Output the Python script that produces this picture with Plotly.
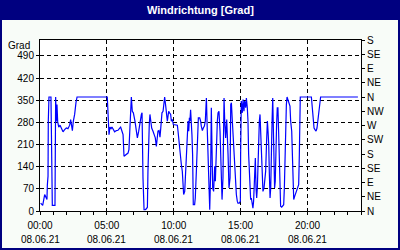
import plotly.graph_objects as go

# time of day in hours (08.06.21) and wind direction in degrees
hours = [0.05, 0.2, 0.35, 0.45, 0.52, 0.55, 0.6, 0.62, 0.67, 0.82, 0.85, 0.87, 0.92, 1.12, 1.17, 1.22, 1.27, 1.32,
         1.40, 1.5, 1.6, 1.72, 1.84, 1.97, 2.09, 2.22, 2.29, 2.34, 2.42, 2.49, 2.59, 2.69, 2.77, 5.03, 5.08, 5.16,
         5.23, 5.31, 5.38, 5.48, 5.58, 5.71, 5.83, 5.96, 6.03, 6.13, 6.21, 6.28, 6.46, 6.58, 6.65, 6.70, 6.75, 6.83,
         6.90, 6.98, 7.10, 7.20, 7.28, 7.38, 7.48, 7.58, 7.63, 7.65, 7.70, 7.78, 7.88, 7.95, 8.03, 8.07, 8.12, 8.17,
         8.22, 8.27, 8.35, 8.45, 8.52, 8.62, 8.70, 8.77, 8.82, 8.90, 8.97, 9.02, 9.07, 9.12, 9.20, 9.27, 9.32, 9.40,
         9.47, 9.52, 9.57, 9.62, 9.69, 9.77, 9.82, 9.89, 9.97, 10.07, 10.19, 10.27, 10.32, 10.39, 10.47, 10.57,
         10.64, 10.69, 10.74, 10.82, 10.87, 10.92, 10.97, 11.02, 11.07, 11.12, 11.17, 11.21, 11.26, 11.31, 11.36,
         11.41, 11.46, 11.56, 11.61, 11.69, 11.74, 11.79, 11.84, 11.94, 12.01, 12.06, 12.14, 12.21, 12.29, 12.36,
         12.44, 12.51, 12.56, 12.64, 12.69, 12.76, 12.81, 12.86, 12.91, 12.98, 13.06, 13.11, 13.18, 13.26, 13.31,
         13.38, 13.46, 13.51, 13.56, 13.61, 13.68, 13.76, 13.81, 13.88, 13.96, 14.01, 14.06, 14.13, 14.21, 14.26,
         14.31, 14.38, 14.45, 14.50, 14.55, 14.60, 14.68, 14.75, 14.80, 14.90, 14.98, 15.00, 15.05, 15.13, 15.18,
         15.25, 15.30, 15.38, 15.43, 15.50, 15.55, 15.60, 15.65, 15.70, 15.75, 15.80, 15.85, 15.92, 15.97, 16.05,
         16.10, 16.15, 16.20, 16.25, 16.30, 16.35, 16.40, 16.45, 16.50, 16.55, 16.60, 16.67, 16.75, 16.80, 16.87,
         16.95, 17.0, 17.05, 17.10, 17.15, 17.20, 17.25, 17.30, 17.35, 17.40, 17.44, 17.49, 17.54, 17.59, 17.64,
         17.69, 17.74, 17.79, 17.84, 17.89, 17.94, 17.99, 18.07, 18.14, 18.22, 18.27, 18.32, 18.37, 18.42, 18.47,
         18.54, 18.62, 18.69, 18.74, 18.82, 18.87, 18.92, 18.97, 19.04, 19.11, 19.19, 19.26, 19.34, 19.39, 19.41,
         19.46, 20.29, 20.31, 20.39, 20.44, 20.49, 20.56, 20.64, 20.71, 20.78, 20.86, 20.91, 20.98, 23.77]
degrees = [25, 18, 52, 43, 36, 83, 110, 283, 360, 360, 283, 104, 18, 18, 360, 283, 336, 283,
           265, 271, 262, 250, 257, 262, 260, 271, 289, 275, 254, 283, 305, 342, 360, 360, 326, 241,
           265, 260, 265, 256, 250, 254, 255, 262, 265, 252, 241, 173, 178, 183, 194, 231, 284, 360,
           315, 310, 284, 252, 231, 252, 284, 305, 310, 231, 104, 4, 4, 7, 12, 125, 231, 273,
           305, 284, 262, 252, 241, 231, 204, 231, 252, 254, 233, 257, 284, 310, 315, 342, 360, 331,
           305, 284, 299, 315, 310, 305, 284, 289, 273, 273, 271, 271, 252, 215, 189, 146,
           125, 94, 52, 62, 115, 146, 178, 231, 284, 252, 294, 284, 320, 294, 241,
           178, 20, 20, 41, 125, 178, 231, 294, 294, 284, 268, 254, 262, 268, 284,
           357, 252, 147, 73, 4, 125, 326, 241, 73, 62, 141, 94, 231, 284, 310,
           315, 252, 178, 99, 36, 104, 357, 284, 231, 289, 252, 178, 73, 104, 336,
           342, 284, 231, 178, 115, 83, 52, 31, 25, 25, 31, 178, 347, 310, 352,
           315, 347, 326, 357, 326, 284, 178, 104, 41, 36, 41, 25, 9, 31, 136,
           167, 73, 41, 73, 178, 210, 284, 305, 252, 178, 94, 62, 73, 104, 125,
           231, 284, 252, 210, 115, 41, 73, 231, 284, 357, 241, 125, 73, 94, 252,
           273, 326, 326, 252, 178, 94, 15, 12, 15, 20, 73, 178, 284, 336, 360,
           352, 342, 331, 284, 252, 178, 110, 36, 46, 54, 62, 73, 83, 178, 284,
           360, 360, 347, 326, 284, 262, 257, 252, 262, 284, 315, 336, 360, 360]

grad_ticks = [0, 70, 140, 210, 280, 350, 420, 490]
compass_vals = [0, 45, 90, 135, 180, 225, 270, 315, 360, 405, 450, 495, 540]
compass_labels = ["N", "NE", "E", "SE", "S", "SW", "W", "NW", "N", "NE", "E", "SE", "S"]
time_ticks = [0, 5, 10, 15, 20]
time_labels = ["00:00", "05:00", "10:00", "15:00", "20:00"]
date_label = "08.06.21"
title_text = "Windrichtung [Grad]"
unit_text = "Grad"

FONT = "Liberation Sans Narrow, Liberation Sans, Arial, sans-serif"
NAVY = "#000080"
W, H = 400, 250
ML, MR, MT, MB = 40, 39, 40, 39
PW, PH = W - ML - MR, H - MT - MB


def px_x(p):
    return (p - ML) / PW


def px_y(p):
    return (H - MB - p) / PH


fig = go.Figure()
fig.add_trace(go.Scatter(x=hours, y=degrees, mode="lines",
                         line=dict(color="#0000FF", width=1.2), hoverinfo="skip", showlegend=False))
fig.add_trace(go.Scatter(x=hours, y=degrees, yaxis="y2", mode="lines",
                         line=dict(color="rgba(0,0,0,0)", width=0), hoverinfo="skip", showlegend=False))

tickfont = dict(family=FONT, size=10, color="black")
grid = dict(showgrid=True, gridcolor="black", gridwidth=1, griddash="4px,3px")

fig.update_layout(
    width=W, height=H,
    margin=dict(l=ML, r=MR, t=MT, b=MB, pad=0),
    paper_bgcolor="#F8FCF8", plot_bgcolor="#FFFFFF",
    showlegend=False,
    xaxis=dict(range=[0, 24], tickmode="array", tickvals=time_ticks, ticktext=time_labels,
               ticks="outside", ticklen=3, tickcolor="black", tickwidth=1, ticklabelstandoff=2,
               showline=True, linecolor="black", linewidth=1, mirror=True, zeroline=False,
               minor=dict(dtick=1, tick0=0, ticks="outside", ticklen=3, tickcolor="black", showgrid=False),
               tickfont=tickfont, **grid),
    yaxis=dict(range=[0, 540], tickmode="array", tickvals=grad_ticks,
               ticks="outside", ticklen=3, tickcolor="black", tickwidth=1,
               showline=True, linecolor="black", linewidth=1, zeroline=False,
               tickfont=tickfont, **grid),
    yaxis2=dict(range=[0, 540], overlaying="y", side="right", tickmode="array",
                tickvals=compass_vals, ticktext=compass_labels,
                ticks="outside", ticklen=3, tickcolor="black", tickwidth=1,
                showline=True, linecolor="black", linewidth=1, zeroline=False, showgrid=False,
                tickfont=tickfont),
    shapes=[
        dict(type="rect", xref="paper", yref="paper", x0=px_x(0), x1=px_x(W), y0=px_y(20), y1=px_y(0),
             fillcolor=NAVY, line=dict(width=0), layer="above"),
        dict(type="rect", xref="paper", yref="paper", x0=px_x(1), x1=px_x(399), y0=px_y(249), y1=px_y(1),
             fillcolor="rgba(0,0,0,0)", line=dict(color=NAVY, width=2), layer="above"),
    ],
    annotations=[
        dict(text="<b>" + title_text + "</b>", xref="paper", yref="paper", x=px_x(200), y=px_y(10.5),
             xanchor="center", yanchor="middle", showarrow=False,
             font=dict(family="Liberation Sans, Arial, sans-serif", size=11, color="white")),
        dict(text=unit_text, xref="paper", yref="paper", x=px_x(32), y=px_y(45),
             xanchor="right", yanchor="middle", showarrow=False, font=tickfont),
    ] + [
        dict(text=date_label, xref="x", yref="paper", x=t, y=px_y(239),
             xanchor="center", yanchor="middle", showarrow=False, font=tickfont)
        for t in time_ticks
    ],
)

fig.write_html("out.html")
